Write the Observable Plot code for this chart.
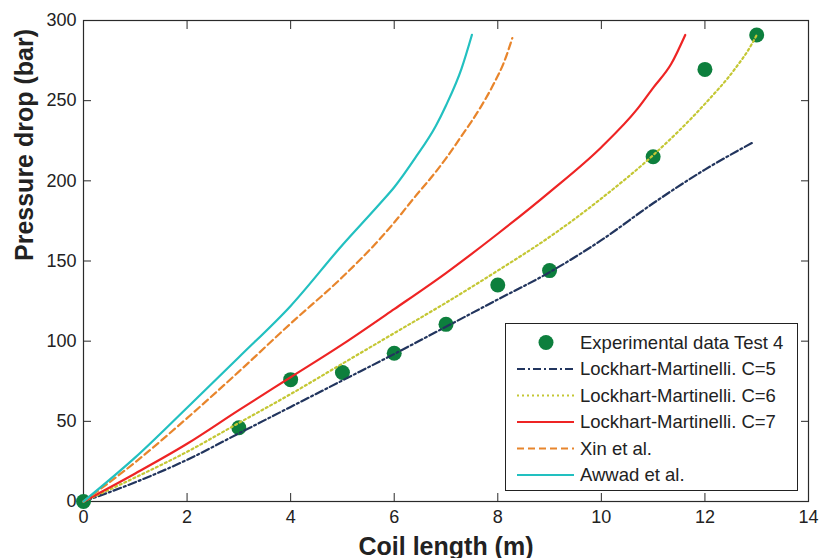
<!DOCTYPE html>
<html>
<head>
<meta charset="utf-8">
<script src="https://cdn.jsdelivr.net/npm/d3@7"></script>
<script src="https://cdn.jsdelivr.net/npm/@observablehq/plot@0.6"></script>
<style>
  html, body { margin: 0; padding: 0; background: #fff; }
  #wrap { position: relative; width: 819px; height: 558px; overflow: hidden; font-family: "Liberation Sans", Arial, sans-serif; }
  #legend { position: absolute; left: 505px; top: 323px; width: 291px; height: 166px; border: 1px solid #222; background: #fff; }
</style>
</head>
<body>
<div id="wrap"><div id="chart"></div><div id="legend"></div></div>
<script>
// ---- data ----
const xTicks = [0, 2, 4, 6, 8, 10, 12, 14];
const yTicks = [0, 50, 100, 150, 200, 250, 300];
const xLabel = "Coil length (m)";
const yLabel = "Pressure drop (bar)";

const expX = [0, 3, 4, 5, 6, 7, 8, 9, 11, 12, 13];
const expY = [0, 46, 76, 80.5, 92.5, 110.5, 135, 144, 215, 269.5, 291];

const lm5X = [0, 1, 2, 3, 4, 5, 6, 7, 8, 9, 10, 11, 12, 12.93];
const lm5Y = [0, 12, 26, 42.5, 59, 75.5, 92, 109, 126, 143, 163, 186, 207, 224];

const lm6X = [0, 1, 2, 3, 4, 5, 6, 7, 8, 9, 10, 11, 12, 12.56, 12.9, 13];
const lm6Y = [0, 15, 31, 49, 67, 86, 105, 124, 144, 165, 189, 216, 248, 269, 285, 291];

const lm7X = [0, 1, 2, 3, 4, 5, 6, 7, 8, 9, 10, 10.7, 11, 11.35, 11.62];
const lm7Y = [0, 17.5, 36, 57, 77.5, 98, 120, 142.5, 167, 193, 221, 245, 258, 273, 291];

const xinX = [0, 1, 2, 3, 4, 5, 5.73, 6, 6.4, 6.8, 7, 7.3, 7.67, 7.93, 8.12, 8.28];
const xinY = [0, 24.5, 52, 81, 111, 140, 164, 174, 190, 205.5, 214, 228, 246, 261, 274, 289];

const awwadX = [0, 1, 2, 3, 4, 5, 5.73, 6, 6.4, 6.8, 7, 7.3, 7.5];
const awwadY = [0, 27.5, 58.5, 90, 122, 160, 186, 196, 214, 234, 247, 270, 291];

const seriesNames = ["Experimental data Test 4", "Lockhart-Martinelli. C=5", "Lockhart-Martinelli. C=6", "Lockhart-Martinelli. C=7", "Xin et al.", "Awwad et al."];

// ---- styles ----
const pointColor = "#0d7f3d";
const lineDefs = [
  {name: seriesNames[1], xs: lm5X, ys: lm5Y, stroke: "#22355e", dash: "8,3,2,3"},
  {name: seriesNames[2], xs: lm6X, ys: lm6Y, stroke: "#c4c734", dash: "2,3"},
  {name: seriesNames[3], xs: lm7X, ys: lm7Y, stroke: "#ee2424", dash: null},
  {name: seriesNames[4], xs: xinX, ys: xinY, stroke: "#e8852c", dash: "7,4"},
  {name: seriesNames[5], xs: awwadX, ys: awwadY, stroke: "#22c0c0", dash: null}
];

const toRows = (xs, ys) => xs.map((x, i) => ({x, y: ys[i]}));
const expRows = toRows(expX, expY);

const font = "'Liberation Sans', Arial, sans-serif";

const chart = Plot.plot({
  width: 819,
  height: 558,
  marginLeft: 83,
  marginRight: 11,
  marginTop: 20,
  marginBottom: 57,
  x: {domain: [0, 14]},
  y: {domain: [0, 300]},
  style: {fontFamily: font, fontSize: "18px", color: "#222", background: "#fff", overflow: "visible"},
  marks: [
    Plot.frame({stroke: "#2a2a2a", strokeWidth: 1.2}),
    Plot.axisX({ticks: xTicks, tickSize: -8, tickPadding: 17, label: null, stroke: "#2a2a2a", tickFormat: d => String(d)}),
    Plot.axisX({ticks: xTicks, anchor: "top", tickSize: -8, label: null, stroke: "#2a2a2a", tickFormat: () => ""}),
    Plot.axisY({ticks: yTicks, tickSize: -8, tickPadding: 15, label: null, stroke: "#2a2a2a", tickFormat: d => String(d)}),
    Plot.axisY({ticks: yTicks, anchor: "right", tickSize: -8, label: null, stroke: "#2a2a2a", tickFormat: () => ""}),
    Plot.dot(expRows, {x: "x", y: "y", r: 7.5, fill: pointColor, stroke: "none"}),
    ...lineDefs.map(s => Plot.line(toRows(s.xs, s.ys), {
      x: "x", y: "y", stroke: s.stroke, strokeWidth: 2.2,
      strokeDasharray: s.dash || undefined, curve: "monotone-x"
    })),
    Plot.text([xLabel], {frameAnchor: "bottom", dy: 45, text: d => d, fontSize: 25, fontWeight: "bold", fill: "#222", lineAnchor: "middle"}),
    Plot.text([yLabel], {frameAnchor: "left", dx: -59, rotate: -90, text: d => d, fontSize: 25, fontWeight: "bold", fill: "#222", lineAnchor: "middle"})
  ]
});
document.getElementById("chart").appendChild(chart);

// ---- legend ----
const legend = d3.select("#legend").append("svg")
  .attr("width", 291).attr("height", 166)
  .style("display", "block");
const rowY = i => 18.5 + i * 26.5;
const items = [{name: seriesNames[0], point: true}, ...lineDefs];
items.forEach((it, i) => {
  const g = legend.append("g").attr("transform", `translate(0,${rowY(i)})`);
  if (it.point) {
    g.append("circle").attr("cx", 40).attr("cy", 0).attr("r", 7.5).attr("fill", pointColor);
  } else {
    g.append("line").attr("x1", 11).attr("x2", 68).attr("y1", 0).attr("y2", 0)
      .attr("stroke", it.stroke).attr("stroke-width", 2.2)
      .attr("stroke-dasharray", it.dash || null);
  }
  g.append("text").attr("x", 74).attr("y", 0).attr("dy", "0.35em")
    .attr("font-family", font).attr("font-size", 18.5).attr("fill", "#222")
    .text(it.name);
});
</script>
</body>
</html>
